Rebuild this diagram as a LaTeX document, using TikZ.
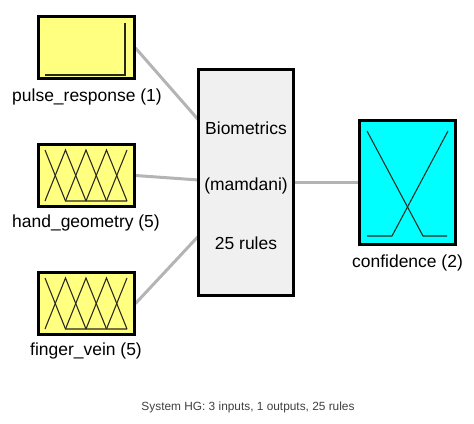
\documentclass[tikz,border=0pt]{standalone}
\usepackage{fontspec}
\setmainfont{Liberation Sans}
\usetikzlibrary{backgrounds}
\definecolor{mfyellow}{RGB}{255,255,128}
\definecolor{mfcyan}{RGB}{0,255,255}
\definecolor{sysgray}{RGB}{240,240,240}
\definecolor{linkgray}{RGB}{180,180,180}
\definecolor{mfline}{RGB}{40,40,30}
\tikzset{
  varbox/.style={draw=black, line width=2.25pt, rectangle, inner sep=0pt, minimum width=72pt, minimum height=46.5pt, fill=mfyellow},
  outbox/.style={draw=black, line width=2.25pt, rectangle, inner sep=0pt, minimum width=72pt, minimum height=93pt, fill=mfcyan},
  sysbox/.style={draw=black, line width=2.25pt, rectangle, inner sep=0pt, minimum width=71.25pt, minimum height=169.5pt, fill=sysgray},
  link/.style={draw=linkgray, line width=2.25pt},
  mf/.style={draw=mfline, line width=0.8pt},
  lbl/.style={font=\fontsize{13.1pt}{15pt}\selectfont, inner sep=0pt},
  caption/.style={font=\fontsize{8.9pt}{10pt}\selectfont, inner sep=0pt, text=black!75}
}
\begin{document}
\begin{tikzpicture}[x=0.75pt, y=-0.75pt]
\useasboundingbox (0,0) rectangle (474,424);
% boxes
\node[varbox] (pulse) at (86,48) {};
\node[varbox] (hand) at (86,175.5) {};
\node[varbox] (finger) at (86,303.5) {};
\node[sysbox] (sys) at (246,182.5) {};
\node[outbox] (conf) at (407.5,182.5) {};
% connector end points on the system box
\coordinate (s1) at (198.5,120);
\coordinate (s2) at (198.5,180);
\coordinate (s3) at (198.5,236);
\coordinate (s4) at (293.5,182.5);
\begin{scope}[on background layer]
\draw[link] (pulse.east) -- (s1);
\draw[link] (hand.east) -- (s2);
\draw[link] (finger.east) -- (s3);
\draw[link] (s4) -- (conf.west);
\end{scope}
% membership functions: pulse
\begin{scope}[shift={(pulse.center)}]
\draw[mf] (-41,27) -- (39,27) -- (39,-25);
\end{scope}
% membership functions: hand and finger (5 triangles)
\foreach \b in {hand,finger}{
\begin{scope}[shift={(\b.center)}]
\draw[mf] (-41,-25.5) -- (-20.5,25.5) -- (41,25.5);
\draw[mf] (-41,25.5) -- (-20.5,-25.5) -- (0,25.5);
\draw[mf] (-20.5,25.5) -- (0,-25.5) -- (20.5,25.5);
\draw[mf] (0,25.5) -- (20.5,-25.5) -- (41,25.5);
\draw[mf] (20.5,25.5) -- (41,-25.5);
\end{scope}
}
% output MFs
\begin{scope}[shift={(conf.center)}]
\draw[mf] (-40.5,-51.5) -- (15.5,53.5) -- (39.5,53.5);
\draw[mf] (-40.5,53.5) -- (-15.5,53.5) -- (40.5,-51.5);
\end{scope}
% labels
\node[lbl] (lp) at (87,97) {pulse\_response (1)};
\node[lbl] (lh) at (86,223) {hand\_geometry (5)};
\node[lbl] (lf) at (86,351) {finger\_vein (5)};
\node[lbl] (lc) at (407.5,263) {confidence (2)};
\node[lbl] (t1) at (246,128) {Biometrics};
\node[lbl] (t2) at (246,186) {(mamdani)};
\node[lbl] (t3) at (246,243) {25 rules};
\node[caption] (cap) at (248,407) {System HG: 3 inputs, 1 outputs, 25 rules};
\end{tikzpicture}
\end{document}
